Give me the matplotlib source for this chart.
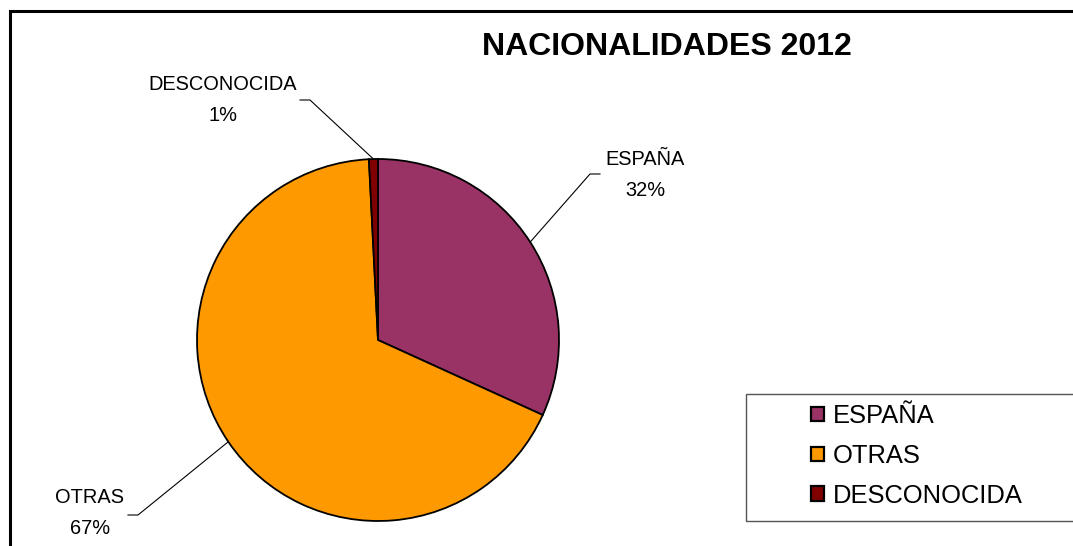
import numpy as np
import matplotlib
matplotlib.use("Agg")
import matplotlib.pyplot as plt
from matplotlib.patches import Rectangle

plt.rcParams['font.family'] = ['Liberation Sans', 'DejaVu Sans']

categories = ["ESPAÑA", "OTRAS", "DESCONOCIDA"]
values = [31.8, 67.4, 0.8]
colors = ["#993366", "#FF9900", "#800000"]
title = "NACIONALIDADES 2012"

W, H = 1073, 546
fig = plt.figure(figsize=(W / 100, H / 100), dpi=100)
ax = fig.add_axes([0, 0, 1, 1])

cx, cy, r = 378, H - 340, 181
wedges, _ = ax.pie(values, colors=colors, startangle=90, counterclock=False,
                   center=(cx, cy), radius=r, frame=True,
                   wedgeprops=dict(edgecolor='black', linewidth=1.3))
ax.set_xlim(0, W)
ax.set_ylim(0, H)
ax.set_aspect('equal')
ax.axis('off')

# outer chart frame (right/bottom edges fall outside the picture)
ax.add_patch(Rectangle((10, -20), W + 20, H - 11 + 20, fill=False,
                       edgecolor='black', linewidth=2.2))

# label text positions (pixels from top-left) and leader elbow points
label_pos = {"ESPAÑA": (645, 175), "OTRAS": (90, 513), "DESCONOCIDA": (223, 100)}
elbows = {"ESPAÑA": [(600, 174), (590, 174)],
          "OTRAS": [(128, 515), (138, 515)],
          "DESCONOCIDA": [(300, 100), (310, 100)]}

total = sum(values)
for w, cat, v in zip(wedges, categories, values):
    ang = np.deg2rad((w.theta1 + w.theta2) / 2)
    ex, ey = cx + r * np.cos(ang), cy + r * np.sin(ang)
    pts = elbows[cat]
    xs = [p[0] for p in pts] + [ex]
    ys = [H - p[1] for p in pts] + [ey]
    ax.plot(xs, ys, color='black', linewidth=0.8)
    lx, ly = label_pos[cat]
    ax.text(lx, H - ly, f"{cat}\n{round(v / total * 100)}%", ha='center',
            va='center', fontsize=14.4, linespacing=1.85)

ax.text(667, H - 47, title, ha='center', va='center', fontsize=23,
        fontweight='bold')

# legend box
ax.add_patch(Rectangle((746, H - 521), W + 20 - 746, 127, fill=False,
                       edgecolor='#555555', linewidth=1.0))
leg = ax.legend(wedges, categories, loc='center left',
                bbox_to_anchor=(811 / W, 1 - 456 / H),
                frameon=False, fontsize=18.4,
                handlelength=0.5, handleheight=0.5, handletextpad=0.35,
                labelspacing=0.62, borderpad=0, borderaxespad=0)
for h in leg.legend_handles:
    h.set_linewidth(1.6)

fig.savefig("out.png", dpi=100)
